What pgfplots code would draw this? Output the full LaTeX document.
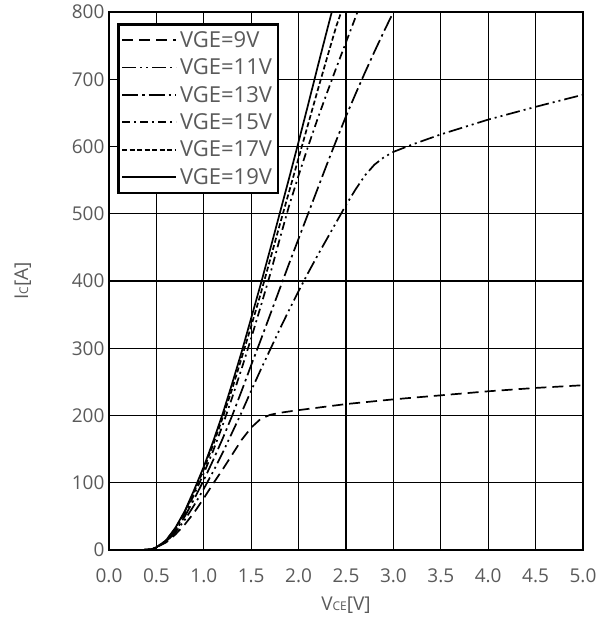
\documentclass[border=0pt]{standalone}
\usepackage{fontspec}
\setmainfont{Open Sans}
\usepackage{pgfplots}
\pgfplotsset{compat=1.18}
\definecolor{labelgray}{HTML}{5A5A5A}

\begin{document}
\begin{tikzpicture}
\begin{axis}[
  name=ax,
  scale only axis,
  width=474pt, height=538pt,
  xmin=0, xmax=5, ymin=0, ymax=800,
  xtick={0,0.5,1,1.5,2,2.5,3,3.5,4,4.5,5},
  ytick={0,100,200,300,400,500,600,700,800},
  grid=major,
  major grid style={black, line width=1.2pt},
  axis line style={black, line width=1.2pt},
  major tick length=0pt,
  tick label style={font=\fontsize{19}{22}\selectfont, text=labelgray},
  /pgf/number format/assume math mode=true,
  x tick label style={/pgf/number format/fixed, /pgf/number format/fixed zerofill,
                      /pgf/number format/precision=1, yshift=-15pt},
  y tick label style={xshift=-1pt},
  xlabel={V{\fontsize{12}{13}\selectfont CE}[V]},
  ylabel={I{\fontsize{12}{13}\selectfont C}[A]},
  every axis x label/.style={at={(axis description cs:0.5,-0.102)}, anchor=center,
                             font=\fontsize{19}{22}\selectfont, text=labelgray},
  every axis y label/.style={at={(axis description cs:-0.182,0.5)}, anchor=center, rotate=90,
                             font=\fontsize{19}{22}\selectfont, text=labelgray},
  legend style={at={(0,1)}, anchor=north west, xshift=8pt, yshift=-11pt,
                draw=black, line width=2.6pt, fill=white,
                font=\fontsize{22}{26}\selectfont, text=labelgray,
                nodes={inner ysep=5pt, inner xsep=3pt}},
  legend cell align=left,
  legend image code/.code={\draw[#1] (0pt,0pt) -- (54pt,0pt);},
  every axis plot/.append style={black, line width=1.7pt, no markers},
]
% VGE=9V
\addplot[dash pattern=on 11pt off 6pt] coordinates {
  (0.35,0) (0.45,1) (0.5,4) (0.6,11) (0.7,23) (0.8,38) (0.9,56) (1.0,77)
  (1.1,99) (1.2,120) (1.3,142) (1.4,164) (1.5,182) (1.6,195) (1.7,201)
  (1.8,204) (2.0,208) (2.5,217) (3.0,224) (3.5,230) (4.0,236) (4.5,241) (5.0,245)
};
\addlegendentry{VGE=9V}
% VGE=11V
\addplot[dash pattern=on 14pt off 4pt on 2pt off 4pt on 2pt off 4pt] coordinates {
  (0.35,0) (0.45,1) (0.5,4) (0.6,12) (0.7,26) (0.8,45) (0.9,67) (1.0,91)
  (1.1,117) (1.2,145) (1.3,175) (1.4,205) (1.5,237) (1.6,268) (1.7,298)
  (1.8,328) (1.9,357) (2.0,385) (2.1,412) (2.2,438) (2.3,463) (2.4,488)
  (2.5,513) (2.6,536) (2.7,557) (2.8,573) (2.9,584) (3.0,592) (3.2,603)
  (3.5,618) (4.0,640) (4.5,659) (5.0,677)
};
\addlegendentry{VGE=11V}
% VGE=13V
\addplot[dash pattern=on 16pt off 4pt on 2.5pt off 4pt] coordinates {
  (0.35,0) (0.45,1) (0.5,4) (0.6,12) (0.7,28) (0.8,50) (0.9,76) (1.0,104)
  (1.1,134) (1.2,166) (1.3,200) (1.4,237) (1.5,275) (1.6,312) (1.7,350)
  (1.8,388) (1.9,426) (2.0,463) (2.1,500) (2.2,537) (2.3,574) (2.4,610)
  (2.5,645) (2.6,678) (2.7,710) (2.8,741) (2.9,771) (3.0,800)
};
\addlegendentry{VGE=13V}
% VGE=15V
\addplot[dash pattern=on 8pt off 4pt on 2pt off 4pt] coordinates {
  (0.35,0) (0.45,1) (0.5,4) (0.6,13) (0.7,31) (0.8,54) (0.9,83) (1.0,114)
  (1.1,148) (1.2,186) (1.3,227) (1.4,270) (1.5,315) (1.6,362) (1.7,410)
  (1.8,462) (1.9,512) (2.0,557) (2.1,600) (2.2,641) (2.3,680) (2.4,718)
  (2.5,755) (2.6,792) (2.62,800)
};
\addlegendentry{VGE=15V}
% VGE=17V
\addplot[dash pattern=on 5pt off 2.5pt] coordinates {
  (0.35,0) (0.45,1) (0.5,4) (0.6,14) (0.7,32) (0.8,57) (0.9,87) (1.0,120)
  (1.1,157) (1.2,197) (1.3,240) (1.4,286) (1.5,333) (1.6,381) (1.7,432)
  (1.8,483) (1.9,533) (2.0,583) (2.1,633) (2.2,683) (2.3,732) (2.4,780)
  (2.45,800)
};
\addlegendentry{VGE=17V}
% VGE=19V
\addplot[solid] coordinates {
  (0.35,0) (0.45,1) (0.5,4) (0.6,14) (0.7,33) (0.8,58) (0.9,90) (1.0,124)
  (1.1,162) (1.2,203) (1.3,248) (1.4,295) (1.5,345) (1.6,395) (1.7,447)
  (1.8,500) (1.9,553) (2.0,607) (2.1,662) (2.2,718) (2.3,773) (2.35,800)
};
\addlegendentry{VGE=19V}
\end{axis}
\path ([xshift=-109pt,yshift=-71pt]ax.south west) rectangle ([xshift=21pt,yshift=12pt]ax.north east);
\end{tikzpicture}
\end{document}
